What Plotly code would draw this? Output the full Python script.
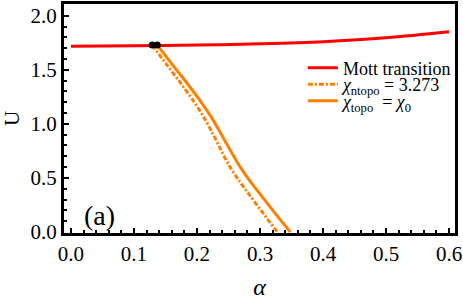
import plotly.graph_objects as go

# Mott transition line
mott_alpha = [0.0, 0.1, 0.2, 0.3, 0.4, 0.5, 0.6]
mott_U = [1.718, 1.722, 1.728, 1.740, 1.760, 1.797, 1.852]

# chi_ntopo = 3.273 (dot-dashed)
ntopo_alpha = [0.129, 0.151, 0.173, 0.194, 0.211, 0.224, 0.2375, 0.251, 0.266, 0.285, 0.306, 0.3276]
ntopo_U = [1.728, 1.555, 1.385, 1.215, 1.06, 0.92, 0.765, 0.615, 0.48, 0.33, 0.165, 0.0]

# chi_topo = chi_0 (solid)
topo_alpha = [0.137, 0.160, 0.183, 0.205, 0.223, 0.237, 0.252, 0.267, 0.283, 0.303, 0.325, 0.348]
topo_U = [1.728, 1.555, 1.385, 1.215, 1.06, 0.92, 0.765, 0.615, 0.48, 0.33, 0.165, 0.0]

# end points on the Mott line
dot_alpha = [0.129, 0.137]
dot_U = [1.728, 1.728]

x_ticks = [0.0, 0.1, 0.2, 0.3, 0.4, 0.5, 0.6]
y_ticks = [0.0, 0.5, 1.0, 1.5, 2.0]

RED = "#ff0000"
ORANGE = "#ff8000"
FONT = "Liberation Serif, Times New Roman, DejaVu Serif, serif"

fig = go.Figure()
fig.add_trace(go.Scatter(x=mott_alpha, y=mott_U, mode="lines", line=dict(color=RED, width=3, shape="spline"),
                         name="Mott transition", legend="legend"))
fig.add_trace(go.Scatter(x=ntopo_alpha, y=ntopo_U, mode="lines",
                         line=dict(color=ORANGE, width=3, dash="5px,2px,2px,2px", shape="spline", smoothing=0.8),
                         name="<i>χ</i><sub>ntopo</sub> = 3.273", legend="legend2"))
fig.add_trace(go.Scatter(x=topo_alpha, y=topo_U, mode="lines",
                         line=dict(color=ORANGE, width=3, shape="spline", smoothing=0.8),
                         name="<i>χ</i><sub>topo</sub>  = <i>χ</i><sub>0</sub>", legend="legend3"))
fig.add_trace(go.Scatter(x=dot_alpha, y=dot_U, mode="markers", marker=dict(color="black", size=7),
                         showlegend=False))

fig.add_annotation(x=0.018, y=0.15, xref="x", yref="y", text="(a)", showarrow=False,
                   xanchor="left", yanchor="middle", font=dict(family=FONT, size=28, color="black"))

axis_common = dict(showline=True, linecolor="black", linewidth=3, mirror=True, showgrid=False,
                   zeroline=False, ticks="inside", tickcolor="black", tickwidth=2, ticklen=5,
                   ticklabeloverflow="allow",
                   tickfont=dict(family=FONT, size=21, color="black"))

fig.update_xaxes(range=[-0.011, 0.6094], tickvals=x_ticks, ticktext=[f"{v:.1f}" for v in x_ticks],
                 minor=dict(ticks="inside", dtick=0.02, ticklen=3, tickwidth=2, tickcolor="black", tick0=0),
                 title=dict(text="<i>α</i>", font=dict(family=FONT, size=24, color="black"), standoff=16),
                 **axis_common)
fig.update_yaxes(range=[-0.009, 2.108], tickvals=y_ticks, ticktext=[f"{v:.1f}" for v in y_ticks],
                 minor=dict(ticks="inside", dtick=0.1, ticklen=3, tickwidth=2, tickcolor="black", tick0=0),
                 title=dict(text="U", font=dict(family=FONT, size=21, color="black"), standoff=15),
                 **axis_common)

leg_common = dict(xanchor="left", yanchor="middle", bgcolor="rgba(0,0,0,0)",
                  font=dict(family=FONT, size=18, color="black"), itemwidth=30)
fig.update_layout(
    width=463, height=300,
    margin=dict(l=62, r=7, t=1, b=64),
    plot_bgcolor="white", paper_bgcolor="white",
    font=dict(family=FONT, color="black"),
    legend=dict(x=0.611, y=0.720, **leg_common),
    legend2=dict(x=0.611, y=0.648, **leg_common),
    legend3=dict(x=0.611, y=0.576, **leg_common),
)

fig.write_html("out.html", config={"displayModeBar": False},
               post_script="document.body.style.margin='0';")
